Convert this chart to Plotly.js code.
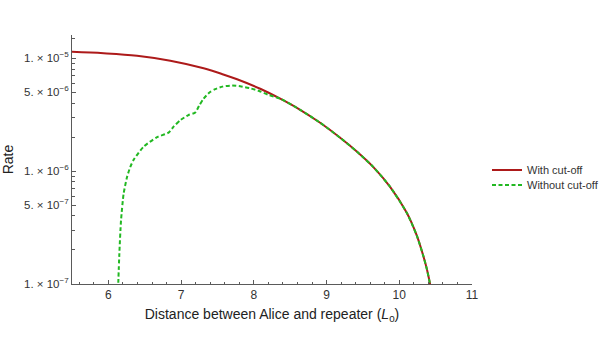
<!DOCTYPE html>
<html>
<head>
<meta charset="utf-8">
<script src="https://cdn.plot.ly/plotly-3.0.1.min.js"></script>
<style>html,body{margin:0;padding:0;background:#fff;}#chart{width:605px;height:342px;}</style>
</head>
<body>
<div id="chart"></div>
<script>
// Distance between Alice and repeater (L0) and rate values
const withCutoffX = [5.5, 5.935, 6.394, 6.852, 7.31, 7.58, 7.77, 8.088, 8.363, 8.637, 8.912, 9.187, 9.416, 9.644, 9.874, 10.103, 10.24, 10.33, 10.38, 10.423, 10.44];
const withCutoffY = [1.135e-5, 1.102e-5, 1.047e-5, 9.462e-6, 8.110e-6, 7.161e-6, 6.486e-6, 5.346e-6, 4.365e-6, 3.483e-6, 2.673e-6, 1.972e-6, 1.489e-6, 1.084e-6, 7.244e-7, 4.266e-7, 2.692e-7, 1.778e-7, 1.349e-7, 1.0e-7, 8.71e-8];

const withoutCutoffX = [6.133, 6.151, 6.174, 6.21, 6.257, 6.3, 6.348, 6.485, 6.67, 6.828, 6.9, 6.99, 7.1, 7.195, 7.25, 7.309, 7.39, 7.47, 7.57, 7.7, 7.813, 7.95, 8.065, 8.2, 8.363, 8.637, 8.912, 9.187, 9.416, 9.644, 9.874, 10.103, 10.24, 10.33, 10.38, 10.423, 10.44];
const withoutCutoffY = [8.91e-8, 1.854e-7, 3.656e-7, 6.31e-7, 8.85e-7, 1.079e-6, 1.259e-6, 1.644e-6, 1.995e-6, 2.188e-6, 2.483e-6, 2.818e-6, 3.126e-6, 3.296e-6, 3.802e-6, 4.365e-6, 4.955e-6, 5.309e-6, 5.585e-6, 5.715e-6, 5.623e-6, 5.395e-6, 5.129e-6, 4.732e-6, 4.365e-6, 3.483e-6, 2.673e-6, 1.972e-6, 1.489e-6, 1.084e-6, 7.244e-7, 4.266e-7, 2.692e-7, 1.778e-7, 1.349e-7, 1.0e-7, 8.71e-8];

const seriesNames = ["With cut\u2010off", "Without cut\u2010off"];

const xTickVals = [6, 7, 8, 9, 10, 11];
const xMinorVals = [5.6, 5.8, 6.2, 6.4, 6.6, 6.8, 7.2, 7.4, 7.6, 7.8, 8.2, 8.4, 8.6, 8.8, 9.2, 9.4, 9.6, 9.8, 10.2, 10.4, 10.6, 10.8];
const yTickVals = [1e-7, 5e-7, 1e-6, 5e-6, 1e-5];
const yTickText = ["1. \u00d7 10<sup>\u22127</sup>", "5. \u00d7 10<sup>\u22127</sup>", "1. \u00d7 10<sup>\u22126</sup>", "5. \u00d7 10<sup>\u22126</sup>", "1. \u00d7 10<sup>\u22125</sup>"];
const yMinorVals = [2e-7, 3e-7, 4e-7, 6e-7, 7e-7, 8e-7, 9e-7, 2e-6, 3e-6, 4e-6, 6e-6, 7e-6, 8e-6, 9e-6, 1.5e-5];

const traces = [
  {x: withCutoffX, y: withCutoffY, name: seriesNames[0], mode: "lines", type: "scatter", legend: "legend",
   line: {color: "#ad1a1a", width: 2, shape: "spline", smoothing: 1}},
  {x: withoutCutoffX, y: withoutCutoffY, name: seriesNames[1], mode: "lines", type: "scatter", legend: "legend2",
   line: {color: "#22b822", width: 2, dash: "4px,2.5px", shape: "spline", smoothing: 0.6}}
];

const axisColor = "#5a5a5a";
const legendFont = {size: 11, color: "#333"};
const layout = {
  width: 605, height: 342,
  margin: {l: 72, r: 133, t: 35, b: 58, autoexpand: false},
  paper_bgcolor: "#fff", plot_bgcolor: "#fff",
  font: {family: "Liberation Sans, Arial, sans-serif", size: 11, color: "#333"},
  showlegend: true,
  legend: {x: 1.0375, y: 0.458, xanchor: "left", yanchor: "middle", font: legendFont, bgcolor: "rgba(0,0,0,0)"},
  legend2: {x: 1.0375, y: 0.398, xanchor: "left", yanchor: "middle", font: legendFont, bgcolor: "rgba(0,0,0,0)"},
  xaxis: {
    range: [5.5, 11], showgrid: false, zeroline: false,
    showline: true, linecolor: axisColor, linewidth: 1,
    ticks: "inside", ticklen: 4, tickcolor: axisColor,
    tickmode: "array", tickvals: xTickVals, ticktext: xTickVals.map(String),
    tickfont: {size: 12, color: "#333"},
    minor: {tickmode: "array", tickvals: xMinorVals, ticks: "inside", ticklen: 2.5, tickcolor: axisColor, showgrid: false},
    title: {text: "Distance between Alice and repeater (<i>L</i><sub>0</sub>)", font: {size: 14, color: "#222"}, standoff: 7}
  },
  yaxis: {
    type: "log", range: [-7, -4.796], showgrid: false, zeroline: false,
    showline: true, linecolor: axisColor, linewidth: 1,
    ticks: "inside", ticklen: 4, tickcolor: axisColor,
    tickmode: "array", tickvals: yTickVals, ticktext: yTickText,
    tickfont: {size: 11.5, color: "#333"},
    minor: {tickmode: "array", tickvals: yMinorVals, ticks: "inside", ticklen: 2.5, tickcolor: axisColor, showgrid: false},
    title: {text: "Rate", font: {size: 14, color: "#222"}, standoff: 8}
  }
};

Plotly.newPlot("chart", traces, layout, {displayModeBar: false, staticPlot: true});
</script>
</body>
</html>
